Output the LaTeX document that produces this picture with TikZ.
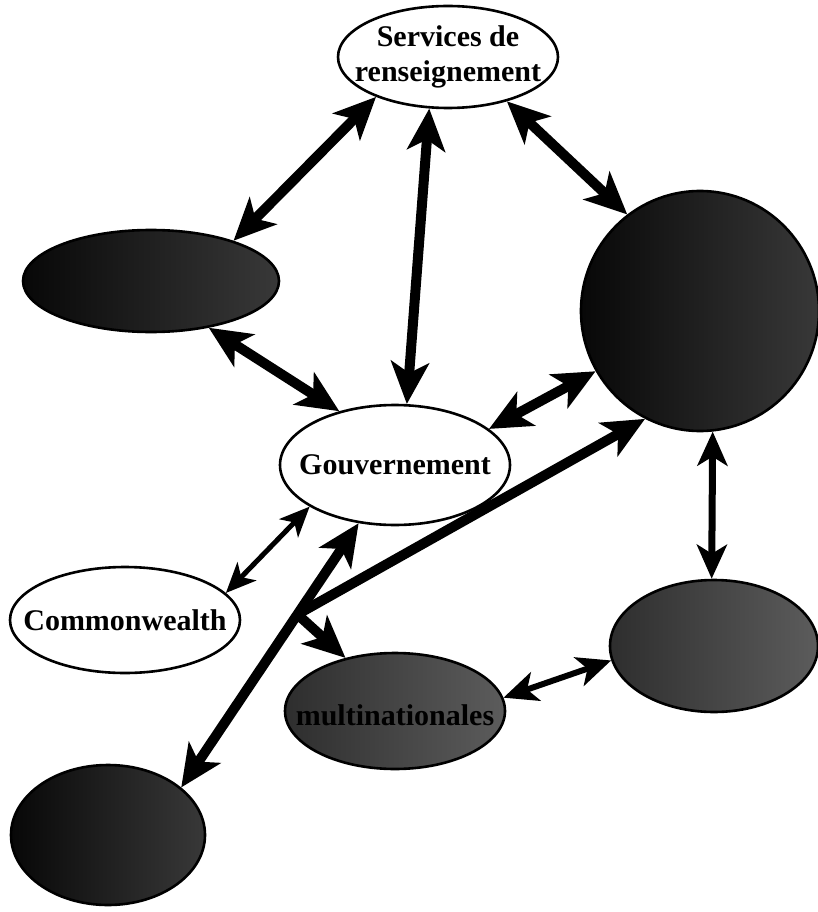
\documentclass[tikz,border=0pt]{standalone}
\usepackage{fontspec}
\setmainfont{Liberation Serif}
\usetikzlibrary{calc,arrows.meta,shapes.geometric}
\tikzset{
  bubble/.style={
    ellipse,
    draw=black, line width=2.6pt,
    inner sep=0pt},
  whitebubble/.style={bubble, fill=white},
  darkbubble/.style={bubble, left color=black!97, right color=black!78},
  greybubble/.style={bubble, left color=black!82, right color=black!64},
  bubbletext/.style={
    align=center,
    font=\fontsize{30}{35}\selectfont\bfseries},
  link/.style={draw, line width=10pt, <->,
    >={Stealth[length=42pt,width=38pt,inset=11pt]}},
  midlink/.style={draw, line width=7pt, <->,
    >={Stealth[length=34pt,width=30pt,inset=9pt]}},
  thinlink/.style={draw, line width=5pt, <->,
    >={Stealth[length=30pt,width=26pt,inset=8pt]}},
}

\begin{document}
\begin{tikzpicture}[x=1pt, y=-1pt]
  \useasboundingbox (0,0) rectangle (818,912);
  % the bubbles
  \node[whitebubble, minimum width=220pt, minimum height=102pt,
    label={[bubbletext]center:{Services de\\renseignement}}] (serv) at (448,57) {};
  \node[darkbubble, minimum width=256pt, minimum height=102pt] (left) at (151,281) {};
  \node[darkbubble, minimum width=238pt, minimum height=240pt] (circ) at (700,311) {};
  \node[whitebubble, minimum width=230pt, minimum height=120pt,
    label={[bubbletext]center:Gouvernement}] (gouv) at (395,465) {};
  \node[whitebubble, minimum width=230pt, minimum height=106pt,
    label={[bubbletext]center:Commonwealth}] (comm) at (125,620) {};
  \node[greybubble, minimum width=220pt, minimum height=116pt,
    label={[bubbletext, yshift=-4pt]center:multinationales}] (midl) at (395,711) {};
  \node[greybubble, minimum width=208pt, minimum height=132pt] (brgt) at (714,646) {};
  \node[darkbubble, minimum width=194pt, minimum height=140pt] (bleft) at (108,835) {};
  % links from the services
  \draw[link] (serv.209) -- (left.26);
  \draw[link] (serv.250) -- (gouv.79);
  \draw[link] (serv.323) -- (circ.127);
  % links round the government
  \draw[link] (left.321) -- (gouv.136);
  \draw[link] (gouv.21) -- (circ.210);
  \draw[thinlink] (gouv.206) -- (comm.15);
  \draw[link] (gouv.238) -- (bleft.33);
  %% the branch that leaves the long line
  \coordinate (junc) at ($(bleft.33)!0.655!(gouv.238)$);
  \draw[link, ->] (junc) -- (circ.243);
  \draw[link, ->] (junc) -- (midl.133);
  % links on the right
  \draw[midlink] (circ.276) -- (brgt.92);
  \draw[midlink, line width=6pt] (midl.7) -- (brgt.188);
\end{tikzpicture}
\end{document}
